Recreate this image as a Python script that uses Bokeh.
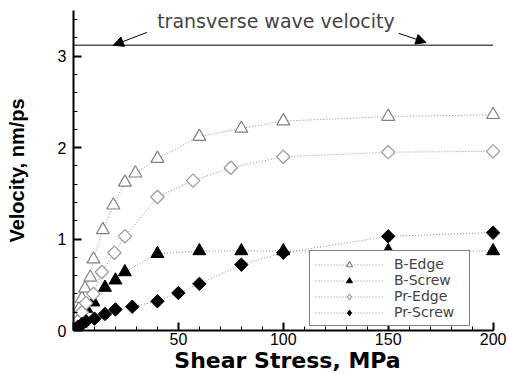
import math
from bokeh.plotting import figure
from bokeh.models import (Range1d, FixedTicker, Label, Arrow, NormalHead, Legend, LegendItem)
from bokeh.embed import file_html
from bokeh.resources import INLINE

# ---- data ----
b_edge_x = [0.5, 1.5, 3, 4, 5.5, 8, 9.5, 14, 19, 24.5, 29.5, 40, 60, 80, 100, 150, 200]
b_edge_y = [0.05, 0.15, 0.25, 0.35, 0.46, 0.58, 0.78, 1.10, 1.37, 1.62, 1.72, 1.88, 2.12, 2.21, 2.29, 2.34, 2.36]

b_screw_x = [0.5, 2, 4, 6, 9.5, 15, 20, 24.5, 40, 60, 80, 100, 150, 200]
b_screw_y = [0.03, 0.10, 0.17, 0.24, 0.31, 0.47, 0.55, 0.64, 0.84, 0.87, 0.87, 0.87, 0.87, 0.87]

pr_edge_x = [0.5, 2, 4, 6, 9.5, 13.5, 19.5, 24.5, 40, 57, 75, 100, 150, 200]
pr_edge_y = [0.03, 0.10, 0.20, 0.30, 0.40, 0.64, 0.85, 1.03, 1.46, 1.64, 1.78, 1.90, 1.95, 1.96]

pr_screw_x = [0.5, 2, 4, 6, 10, 15, 20, 28, 40, 50, 60, 80, 100, 150, 200]
pr_screw_y = [0.01, 0.04, 0.07, 0.10, 0.13, 0.18, 0.23, 0.26, 0.32, 0.41, 0.51, 0.72, 0.85, 1.03, 1.07]

series_names = ["B-Edge", "B-Screw", "Pr-Edge", "Pr-Screw"]

transverse_velocity = 3.12
annotation_text = "transverse wave velocity"

x_ticks = [0, 50, 100, 150, 200]
y_ticks = [0, 1, 2, 3]
x_max = 200
y_max = 3.5

FONT = "Liberation Sans"

p = figure(width=510, height=375, output_backend="svg", toolbar_location=None,
           x_range=Range1d(0, 204), y_range=Range1d(0, y_max),
           min_border_left=73, min_border_right=9, min_border_top=10, min_border_bottom=45)
p.outline_line_color = None
p.grid.visible = False

for ax in (p.xaxis[0], p.yaxis[0]):
    ax.axis_line_width = 2
    ax.axis_line_color = "black"
    ax.major_tick_in = 8
    ax.major_tick_out = 0
    ax.minor_tick_in = 4
    ax.minor_tick_out = 0
    ax.major_tick_line_width = 2
    ax.minor_tick_line_width = 1
    ax.major_label_text_font = FONT
    ax.major_label_text_font_size = "16px"
    ax.major_label_text_color = "black"
    ax.axis_label_text_font_style = "bold"
    ax.axis_label_text_color = "black"

p.xaxis.bounds = (0, x_max)
p.xaxis.ticker = FixedTicker(ticks=x_ticks, minor_ticks=list(range(0, 201, 10)))
p.yaxis.ticker = FixedTicker(ticks=y_ticks, minor_ticks=[i * 0.2 for i in range(18)])
p.xaxis.major_label_overrides = {0: ""}
p.xaxis.axis_label = "Shear Stress, MPa"
p.yaxis.axis_label = "Velocity, nm/ps"
p.xaxis.axis_label_text_font = "DejaVu Sans"
p.xaxis.axis_label_text_font_size = "22px"
p.yaxis.axis_label_text_font = FONT
p.yaxis.axis_label_text_font_size = "20px"
p.xaxis.major_label_standoff = 2
p.yaxis.major_label_standoff = 7
p.xaxis.axis_label_standoff = 0
p.yaxis.axis_label_standoff = 27

LINE = dict(line_dash="1 2", line_color="#8c8c8c", line_width=1)

# transverse wave velocity reference line
p.segment(x0=[x_ticks[0]], y0=[transverse_velocity], x1=[x_ticks[-1]], y1=[transverse_velocity],
          line_color="#555555", line_width=1.5)

r1l = p.line(b_edge_x, b_edge_y, **LINE)
r1m = p.scatter(b_edge_x, b_edge_y, marker="triangle", size=13, fill_color="white",
                line_color="#808080", line_width=1.2)
r2l = p.line(b_screw_x, b_screw_y, **LINE)
r2m = p.scatter(b_screw_x, b_screw_y, marker="triangle", size=13, fill_color="black",
                line_color="black")
r3l = p.line(pr_edge_x, pr_edge_y, **LINE)
r3m = p.scatter(pr_edge_x, pr_edge_y, marker="square", size=9.5, angle=math.pi / 4,
                fill_color="white", line_color="#9a9a9a", line_width=1.2)
r4l = p.line(pr_screw_x, pr_screw_y, **LINE)
r4m = p.scatter(pr_screw_x, pr_screw_y, marker="square", size=9.5, angle=math.pi / 4,
                fill_color="black", line_color="black")

# legend-only diamond glyphs (a single NaN point, never drawn in the plot)
nan = [float("nan")]
d3 = p.scatter(x=nan, y=nan, marker="diamond", fill_color="white", line_color="#9a9a9a",
               line_width=1.2)
d4 = p.scatter(x=nan, y=nan, marker="diamond", fill_color="black", line_color="black")

legend = Legend(items=[LegendItem(label=series_names[0], renderers=[r1l, r1m]),
                       LegendItem(label=series_names[1], renderers=[r2l, r2m]),
                       LegendItem(label=series_names[2], renderers=[r3l, d3]),
                       LegendItem(label=series_names[3], renderers=[r4l, d4])],
                location=(236, 4))
legend.border_line_color = "black"
legend.border_line_width = 1
legend.background_fill_alpha = 1
legend.label_text_font = "DejaVu Sans"
legend.label_text_font_size = "14px"
legend.label_height = 15
legend.glyph_height = 15
legend.glyph_width = 68
legend.label_standoff = 11
legend.spacing = 0
legend.padding = 5
legend.margin = 0
legend.label_width = 70
p.add_layout(legend, "center")

p.add_layout(Label(x=96.5, y=3.385, text=annotation_text, text_align="center",
                   text_baseline="middle", text_font="DejaVu Sans", text_font_size="19px"))
p.add_layout(Arrow(x_start=35, y_start=3.26, x_end=19, y_end=transverse_velocity,
                   line_width=1, line_color="black",
                   end=NormalHead(size=10, fill_color="black", line_color="black")))
p.add_layout(Arrow(x_start=155, y_start=3.25, x_end=168, y_end=3.15,
                   line_width=1, line_color="black",
                   end=NormalHead(size=10, fill_color="black", line_color="black")))

open("out.html", "w").write(file_html(p, INLINE))
